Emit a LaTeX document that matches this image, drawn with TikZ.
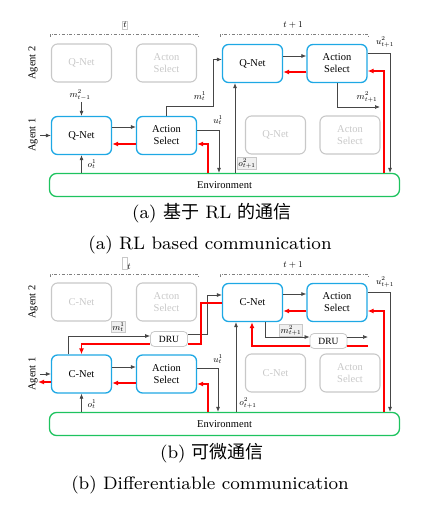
\documentclass[tikz,border=0pt]{standalone}
\usepackage{fontspec}
\usepackage{amsmath}
\usepackage{xcolor}
\usetikzlibrary{arrows.meta}
\newfontfamily\figfont{Liberation Serif}
\newfontfamily\cjk{Noto Sans CJK SC}
\newfontfamily\capfont{lmroman8-regular.otf}
\definecolor{netblue}{RGB}{30,168,228}
\definecolor{envgreen}{RGB}{30,195,95}
\definecolor{ghostgray}{RGB}{200,200,200}
\definecolor{linegray}{RGB}{70,70,70}
\tikzset{
  box/.style={rounded corners=6pt, minimum width=60pt, minimum height=38pt, align=center,
    font=\figfont\fontsize{10.5}{12}\selectfont, line width=1.3pt},
  net/.style={box, draw=netblue},
  ghost/.style={box, draw=ghostgray, text=ghostgray, line width=1.1pt},
  env/.style={draw=envgreen, line width=1.3pt, rounded corners=7pt, minimum width=350pt,
    minimum height=23pt, font=\figfont\fontsize{10.5}{12}\selectfont},
  dru/.style={draw=ghostgray, rounded corners=4pt, minimum width=37pt, minimum height=15pt,
    inner sep=0pt, line width=0.8pt, font=\figfont\fontsize{9.5}{10}\selectfont},
  flow/.style={-{Latex[length=5pt,width=4pt]}, draw=linegray, line width=0.7pt},
  back/.style={-{Latex[length=6pt,width=5pt]}, draw=red, line width=1.6pt},
  lab/.style={font=\fontsize{9}{10}\selectfont, inner sep=1pt},
  tag/.style={lab, draw=ghostgray, fill=gray!12},
  span/.style={draw=gray, dash dot, line width=0.6pt},
  agent/.style={rotate=90, font=\figfont\fontsize{10.5}{12}\selectfont},
  caption/.style={font=\capfont\fontsize{18}{21}\selectfont}
}
\begin{document}
\begin{tikzpicture}[x=1pt,y=-1pt]
\useasboundingbox (0,0) rectangle (429,505);

% (a) RL based communication
\node[tag, fill=none] (ta) at (125,25) {$t$};
\node[lab] (t1a) at (293,25) {$t+1$};
\draw[span] (50,37) -- (50,34) -- (198,34) -- (198,37);
\draw[span] (220,37) -- (220,34) -- (368,34) -- (368,37);
\node[agent] (ag2a) at (33,63) {Agent 2};
\node[agent] (ag1a) at (33,135) {Agent 1};

\node[ghost] (gqa) at (81.5,63) {Q-Net};
\node[ghost] (gsa) at (166.5,63) {Acton\\Select};
\node[net] (qa) at (81.5,135.5) {Q-Net};
\node[net] (sa) at (166.5,135.5) {Action\\Select};
\node[net] (qb) at (252.5,63.5) {Q-Net};
\node[net] (sb) at (337,63.5) {Action\\Select};
\node[ghost] (gqb) at (275.5,135) {Q-Net};
\node[ghost] (gsb) at (350,135) {Acton\\Select};
\node[env] (enva) at (224.5,185) {Environment};

\coordinate (ina) at (40,135.5);
\coordinate (mina) at (81.5,102);
\coordinate (mouta) at (380,107);
\draw[flow] (ina) -- (qa.west);
\draw[flow] (mina) -- (qa.north);
\node[lab] (mla) at (80,95) {$m^2_{t-1}$};
\draw[flow] ([yshift=8.5]qa.east) -- ([yshift=8.5]sa.west);
\draw[back] ([yshift=-8.5]sa.west) -- ([yshift=-8.5]qa.east);
\draw[flow] (qa.south |- enva.north) -- (qa.south);
\node[lab] (ola) at (92,164) {$o^1_t$};
\draw[flow] (sa.north) |- (213,106) |- ([yshift=4]qb.west);
\node[lab] (m1a) at (200,96) {$m^1_t$};
\draw[flow] ([yshift=5.5]sa.east) -| (enva.north -| 219,0);
\node[lab] (u1a) at (218,120) {$u^1_t$};
\draw[back] (enva.north -| 208,0) |- ([yshift=-8.5]sa.east);
\draw[flow] (enva.north -| 235,0) -- (qb.south -| 235,0);
\node[tag] (o2a) at (247,163.5) {$o^2_{t+1}$};
\draw[flow] ([yshift=7.5]qb.east) -- ([yshift=7.5]sb.west);
\draw[back] ([yshift=-8.5]sb.west) -- ([yshift=-8.5]qb.east);
\draw[flow] ([yshift=10]sb.east) -| (enva.north -| 390,0);
\node[lab] (u2a) at (385,42) {$u^2_{t+1}$};
\draw[back] (enva.north -| 384,0) |- ([yshift=-7.5]sb.east);
\draw[flow] (sb.south) |- (mouta);
\node[lab] (m2a) at (367,97) {$m^2_{t+1}$};

\node[caption] (capa) at (212,213) {(a) {\cjk 基于} RL {\cjk 的通信}};
\node[caption] (capea) at (210,245) {(a) RL based communication};

% (b) Differentiable communication
\node[draw=ghostgray, minimum width=5pt, minimum height=12pt, inner sep=0pt] (tbx) at (124.5,263.5) {};
\node[lab] (tb) at (129,267) {$t$};
\node[lab] (t1b) at (293,265) {$t+1$};
\draw[span] (50,277) -- (50,274) -- (198,274) -- (198,277);
\draw[span] (220,277) -- (220,274) -- (368,274) -- (368,277);
\node[agent] (ag2b) at (33,302) {Agent 2};
\node[agent] (ag1b) at (33,374) {Agent 1};

\node[ghost] (gqc) at (81.5,302) {C-Net};
\node[ghost] (gsc) at (166.5,302) {Acton\\Select};
\node[net] (qc) at (81.5,374) {C-Net};
\node[net] (sc) at (166.5,374) {Action\\Select};
\node[net] (qd) at (252.5,302.5) {C-Net};
\node[net] (sd) at (337,302.5) {Action\\Select};
\node[ghost] (gqd) at (275.5,373) {C-Net};
\node[ghost] (gsd) at (350,373) {Acton\\Select};
\node[dru] (druc) at (169,339) {DRU};
\node[dru] (drud) at (328.5,341) {DRU};
\node[env] (envb) at (224.5,424) {Environment};

\coordinate (inb) at (40,374);
\coordinate (outb) at (38,382);
\coordinate (moutb) at (368,337);
\coordinate (gradb) at (368,346);
\draw[flow] (inb) -- (qc.west);
\draw[back] ([yshift=-8]qc.west) -- (outb);
\draw[flow] (qc.north -| 68,0) |- ([yshift=3]druc.west);
\node[tag] (m1b) at (118.5,327) {$m^1_t$};
\draw[flow] ([yshift=5]druc.east) -- (207,334) |- ([yshift=7.5]qd.west);
\draw[back, -] ([yshift=-0.5]qd.west) -| (201,344) -- ([yshift=-5]druc.east);
\draw[back] ([yshift=-5]druc.west) -| (qc.north);
\draw[flow] ([yshift=7]qc.east) -- ([yshift=7]sc.west);
\draw[back] ([yshift=-9]sc.west) -- ([yshift=-9]qc.east);
\draw[flow] (qc.south |- envb.north) -- (qc.south);
\node[lab] (olb) at (92,404) {$o^1_t$};
\draw[flow] ([yshift=6]sc.east) -| (envb.north -| 218,0);
\node[lab] (u1b) at (218,359) {$u^1_t$};
\draw[back] (envb.north -| 208,0) |- ([yshift=-10]sc.east);
\draw[flow] (envb.north -| 236,0) -- (qd.south -| 236,0);
\node[lab] (o2b) at (248,403) {$o^2_{t+1}$};
\draw[flow] ([yshift=8.5]qd.east) -- ([yshift=8.5]sd.west);
\draw[back] ([yshift=-8.5]sd.west) -- ([yshift=-8.5]qd.east);
\draw[flow] ([yshift=10.5]sd.east) -| (envb.north -| 390,0);
\node[lab] (u2b) at (385,282) {$u^2_{t+1}$};
\draw[back] (envb.north -| 384,0) |- ([yshift=-8.5]sd.east);
\draw[flow] (qd.south -| 265,0) |- ([yshift=4]drud.west);
\node[tag] (m2b) at (291,330.5) {$m^2_{t+1}$};
\draw[flow] ([yshift=4]drud.east) -- (moutb);
\draw[back, -] (gradb) -- ([yshift=-5]drud.east);
\draw[back] ([yshift=-5]drud.west) -| (qd.south -| 252,0);

\node[caption] (capb) at (212,453) {(b) {\cjk 可微通信}};
\node[caption] (capeb) at (210,485) {(b) Differentiable communication};
\end{tikzpicture}
\end{document}
